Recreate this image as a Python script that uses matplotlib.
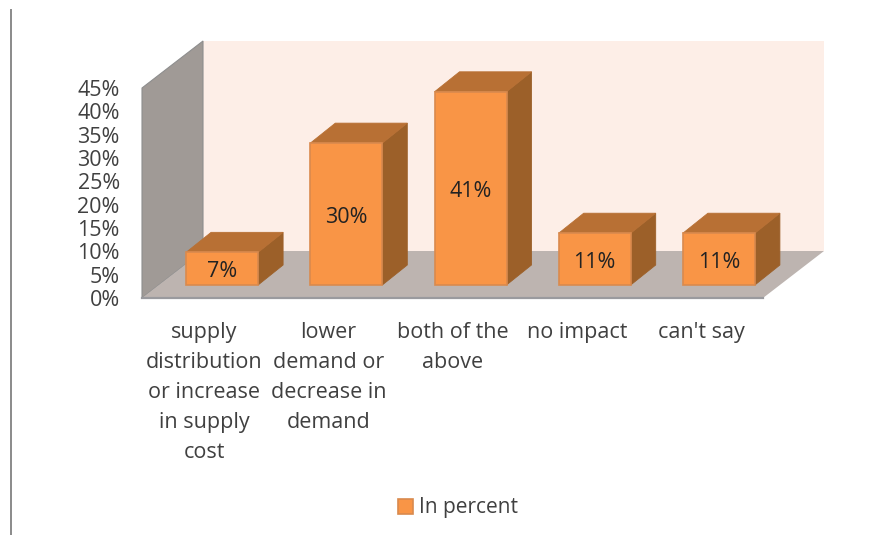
import matplotlib
matplotlib.use("Agg")
import matplotlib.pyplot as plt
from matplotlib.lines import Line2D
from matplotlib.patches import Patch

categories = ["supply\ndistribution\nor increase\nin supply\ncost",
              "lower\ndemand or\ndecrease in\ndemand",
              "both of the\nabove", "no impact", "can't say"]
values = [7.0, 30.4, 41.4, 11.1, 11.1]
yticks = [0, 5, 10, 15, 20, 25, 30, 35, 40, 45]
series_name = "In percent"

W, H = 888, 535
plt.rcParams["font.family"] = ["Open Sans", "DejaVu Sans"]
fig = plt.figure(figsize=(W / 100, H / 100), dpi=100, facecolor="white")
L, R, B, T = 142, 763, 298, 88
ax = fig.add_axes([L / W, (H - B) / H, (R - L) / W, (B - T) / H])
ax.set_xlim(-0.5, 4.5)
ax.set_ylim(0, 45)
ax.patch.set_visible(False)
for s in ax.spines.values():
    s.set_visible(False)

xu = (R - L) / 5
yu = (B - T) / 45
# 3-D projection depth of the chart box and of the bars (pixels -> data units)
box_dx, box_dy = 61 / xu, 47 / yu
bar_dx, bar_dy = 25 / xu, 20 / yu
shift, base, width = 18 / xu, 13 / yu, 72 / xu
x0, x1 = -0.5, 4.5
y0, y1 = 0, 45

ax.fill([x0 + box_dx, x1 + box_dx, x1 + box_dx, x0 + box_dx],
        [y0 + box_dy, y0 + box_dy, y1 + box_dy, y1 + box_dy],
        color="#FDEEE7", lw=0, clip_on=False, zorder=1)
ax.fill([x0, x0 + box_dx, x0 + box_dx, x0],
        [y0, y0 + box_dy, y1 + box_dy, y1],
        facecolor="#A09A96", edgecolor="#8E8E8E", lw=0.8, clip_on=False, zorder=2)
ax.fill([x0, x1, x1 + box_dx, x0 + box_dx],
        [y0, y0, y0 + box_dy, y0 + box_dy],
        facecolor="#BDB4B0", edgecolor="none", clip_on=False, zorder=2)
ax.plot([x0, x1], [y0, y0], color="#9A9A9E", lw=1.6, clip_on=False, zorder=3)

FRONT, TOP, SIDE, EDGE = "#F99546", "#B87034", "#9C6029", "#D98A4E"
for i, v in enumerate(values):
    a = i + shift - width / 2
    b = i + shift + width / 2
    t = base + v
    ax.fill([b, b + bar_dx, b + bar_dx, b], [base, base + bar_dy, t + bar_dy, t],
            facecolor=SIDE, edgecolor=SIDE, lw=0.6, clip_on=False, zorder=4)
    ax.fill([a, b, b + bar_dx, a + bar_dx], [t, t, t + bar_dy, t + bar_dy],
            facecolor=TOP, edgecolor=TOP, lw=0.6, clip_on=False, zorder=4)
bars = ax.bar([i + shift for i in range(len(values))], values, width=width, bottom=base,
              color=FRONT, edgecolor=EDGE, linewidth=1.2, zorder=5, clip_on=False)
for rect, v in zip(bars, values):
    ax.text(rect.get_x() + rect.get_width() / 2, rect.get_y() + rect.get_height() / 2 - 0.7,
            f"{v:.0f}%", ha="center", va="center", fontsize=15.5, color="#222222", zorder=6)

ax.set_yticks(yticks)
ax.set_yticklabels([f"{v}%" for v in yticks], fontsize=15.5, color="#404040")
ax.set_xticks(range(len(categories)))
ax.set_xticklabels(categories, fontsize=15.5, color="#404040", linespacing=1.57, va="top")
ax.tick_params(axis="both", length=0)
ax.tick_params(axis="y", pad=16)
ax.tick_params(axis="x", pad=17)

fig.add_artist(Line2D([10.5 / W, 10.5 / W], [0, 1 - 10 / H], color="#8A8A8A", lw=1.4))

fig.legend(handles=[Patch(facecolor=FRONT, edgecolor=EDGE, linewidth=1.2, label=series_name)],
           loc="center", bbox_to_anchor=(458 / W, 1 - 508 / H), frameon=False,
           fontsize=15, labelcolor="#404040", handlelength=0.72, handleheight=0.72,
           handletextpad=0.33)

fig.savefig("out.png", dpi=100)
